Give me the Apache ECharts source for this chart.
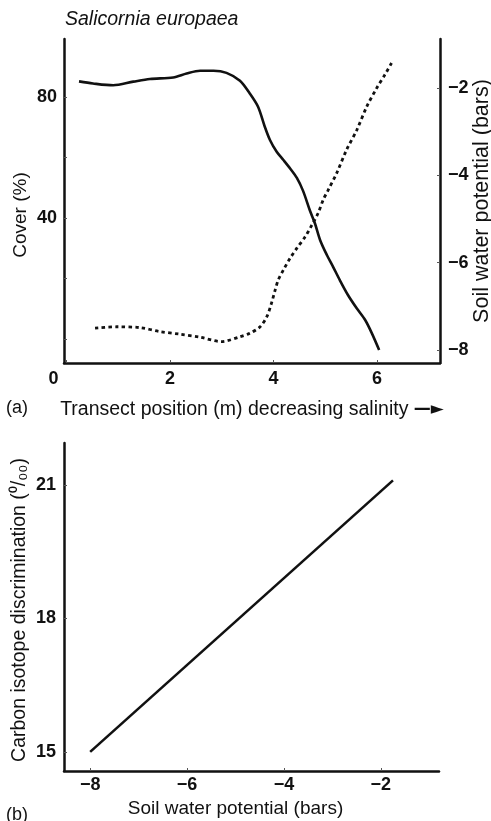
<!DOCTYPE html>
<html>
<head>
<meta charset="utf-8">
<title>Salicornia europaea</title>
<script src="https://cdn.jsdelivr.net/npm/echarts@6/dist/echarts.min.js"></script>
<style>
  html, body { margin: 0; padding: 0; background: #fff; }
  #chart { width: 491px; height: 821px; }
</style>
</head>
<body>
<div id="chart"></div>
<script>
// (a) Cover of Salicornia europaea along the transect (solid, left axis)
const coverX = [0.24, 0.51, 0.90, 1.29, 1.61, 2.06, 2.32, 2.58, 2.84, 3.09, 3.35, 3.54, 3.70, 3.83, 3.93, 4.06, 4.19, 4.32, 4.45, 4.57, 4.70, 4.80, 4.90, 5.03, 5.15, 5.28, 5.44, 5.61, 5.77, 5.90, 6.04];
const coverPct = [85.2, 84.5, 83.9, 85.1, 86.0, 86.5, 87.8, 88.7, 88.7, 88.0, 85.4, 81.2, 76.8, 70.2, 65.8, 61.9, 59.2, 56.4, 53.3, 49.0, 42.6, 38.2, 32.7, 27.8, 23.9, 19.5, 14.5, 10.1, 6.3, 1.9, -3.6];

// (a) Soil water potential along the transect (dotted, right axis)
const potentialX = [0.55, 0.97, 1.42, 1.80, 2.19, 2.58, 2.99, 3.35, 3.54, 3.74, 3.87, 3.96, 4.03, 4.09, 4.19, 4.32, 4.45, 4.61, 4.74, 4.86, 4.96, 5.05, 5.22, 5.41, 5.61, 5.80, 5.99, 6.15, 6.28];
const potentialBars = [-7.50, -7.47, -7.49, -7.58, -7.64, -7.71, -7.81, -7.70, -7.62, -7.47, -7.24, -6.93, -6.63, -6.40, -6.17, -5.90, -5.67, -5.41, -5.14, -4.87, -4.56, -4.35, -3.95, -3.42, -2.96, -2.43, -2.01, -1.70, -1.43];

// (b) Carbon isotope discrimination against soil water potential
const regressionPotential = [-8, -1.75];
const regressionDiscrimination = [15, 21.1];

// Tick labels
const transectTicks = [0, 2, 4, 6];
const coverTicks = [40, 80];
const potentialTicks = [-8, -6, -4, -2];
const discriminationTicks = [15, 18, 21];

const FONT = 'Liberation Sans';
const INK = '#111';
const pair = (xs, ys) => xs.map((x, i) => [x, ys[i]]);
const minus = v => (v < 0 ? '\u2212' + Math.abs(v) : String(v));

const tickLabel = (values, margin, extra) => Object.assign({
  customValues: values,
  margin: margin,
  color: INK,
  fontFamily: FONT,
  fontSize: 18,
  fontWeight: 'bold',
  formatter: minus
}, extra || {});

const axisLine = { show: true, onZero: false, lineStyle: { color: INK, width: 2.5 } };
const insideTicks = values => ({ show: true, inside: true, length: 3, customValues: values, lineStyle: { color: '#555', width: 1 } });

const nameStyle = (size, padding, extra) => Object.assign({
  color: INK, fontFamily: FONT, fontSize: size, padding: padding || 0
}, extra || {});

const chart = echarts.init(document.getElementById('chart'), null, { renderer: 'canvas' });

chart.setOption({
  backgroundColor: '#fff',
  animation: false,
  grid: [
    { left: 64, top: 39, width: 376, height: 324, outerBoundsMode: 'none', containLabel: false },
    { left: 64, top: 443, width: 375, height: 328, outerBoundsMode: 'none', containLabel: false }
  ],
  xAxis: [
    {
      type: 'value', gridIndex: 0, min: -0.05, max: 7.216,
      axisLine: axisLine,
      axisTick: insideTicks(transectTicks),
      splitLine: { show: false },
      axisLabel: tickLabel(transectTicks, 7, {
        formatter: v => (v === 0 ? '{z|0}' : minus(v)),
        rich: { z: { fontFamily: FONT, fontSize: 18, fontWeight: 'bold', color: INK, padding: [0, 26, 0, 0] } }
      }),
      name: 'Transect position (m) decreasing salinity {arr|\u2014\u25BA}',
      nameLocation: 'middle', nameGap: 37, nameMoveOverlap: false,
      nameTextStyle: nameStyle(19.5, 0, {
        rich: { arr: { fontFamily: 'DejaVu Sans', fontSize: 17, fontWeight: 'bold', color: INK } }
      })
    },
    {
      type: 'value', gridIndex: 1, min: -8.54, max: -0.80,
      axisLine: axisLine,
      axisTick: insideTicks(potentialTicks),
      splitLine: { show: false },
      axisLabel: tickLabel(potentialTicks, 5),
      name: 'Soil water potential (bars)',
      nameLocation: 'middle', nameGap: 28, nameMoveOverlap: false,
      nameTextStyle: nameStyle(19, [0, 32, 0, 0])
    }
  ],
  yAxis: [
    {
      type: 'value', gridIndex: 0, position: 'left', min: -7.9, max: 99.2,
      axisLine: axisLine,
      axisTick: insideTicks([0, 20, 40, 60, 80]),
      splitLine: { show: false },
      axisLabel: tickLabel(coverTicks, 7),
      name: 'Cover (%)',
      nameLocation: 'middle', nameRotate: 90, nameGap: 34, nameMoveOverlap: false,
      nameTextStyle: nameStyle(19, [0, 28, 0, 0])
    },
    {
      type: 'value', gridIndex: 0, position: 'right', min: -8.3, max: -0.88,
      axisLine: axisLine,
      axisTick: insideTicks(potentialTicks),
      splitLine: { show: false },
      axisLabel: tickLabel(potentialTicks, 8),
      name: 'Soil water potential (bars)',
      nameLocation: 'middle', nameRotate: 90, nameGap: 31, nameMoveOverlap: false,
      nameTextStyle: nameStyle(21.5)
    },
    {
      type: 'value', gridIndex: 1, position: 'left', min: 14.57, max: 21.94,
      axisLine: axisLine,
      axisTick: insideTicks(discriminationTicks),
      splitLine: { show: false },
      axisLabel: tickLabel(discriminationTicks, 8),
      name: 'Carbon isotope discrimination (\u2070/\u2080\u2080)',
      nameLocation: 'middle', nameRotate: 90, nameGap: 34, nameMoveOverlap: false,
      nameTextStyle: nameStyle(19.5, [0, 6, 0, 0])
    }
  ],
  series: [
    {
      name: 'Cover', type: 'line', xAxisIndex: 0, yAxisIndex: 0,
      data: pair(coverX, coverPct),
      smooth: 0.3, showSymbol: false,
      lineStyle: { color: INK, width: 2.6 }
    },
    {
      name: 'Soil water potential', type: 'line', xAxisIndex: 0, yAxisIndex: 1,
      data: pair(potentialX, potentialBars),
      smooth: 0.3, showSymbol: false,
      lineStyle: { color: INK, width: 2.8, type: [3.4, 3.3] }
    },
    {
      name: 'Discrimination', type: 'line', xAxisIndex: 1, yAxisIndex: 2,
      data: pair(regressionPotential, regressionDiscrimination),
      showSymbol: false,
      lineStyle: { color: INK, width: 2.6 }
    }
  ],
  graphic: [
    {
      type: 'text', left: 65, top: 10,
      style: { text: 'Salicornia europaea', fill: INK, font: 'italic 19.5px "Liberation Sans"' }
    },
    {
      type: 'text', left: 6, top: 399,
      style: { text: '(a)', fill: INK, font: '18px "Liberation Sans"' }
    },
    {
      type: 'text', left: 6, top: 806,
      style: { text: '(b)', fill: INK, font: '18px "Liberation Sans"' }
    }
  ]
});
</script>
</body>
</html>
